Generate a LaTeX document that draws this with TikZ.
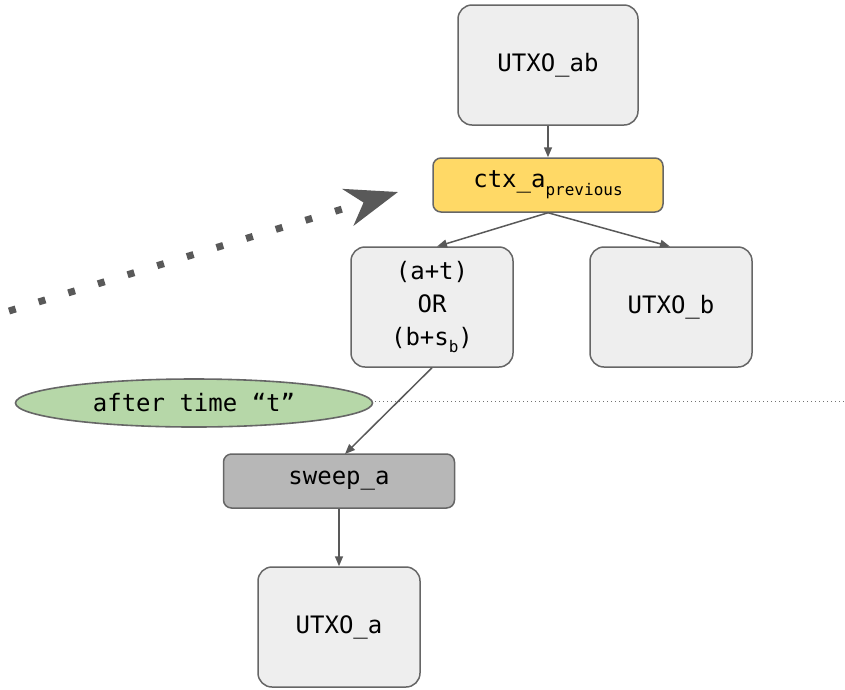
\documentclass[tikz,border=0pt]{standalone}
\usepackage{fontspec}
\setmonofont{DejaVu Sans Mono}
\usetikzlibrary{arrows.meta,shapes.geometric}
\definecolor{boxfill}{HTML}{EEEEEE}
\definecolor{boxline}{HTML}{666666}
\definecolor{linecol}{HTML}{595959}
\definecolor{ctxfill}{HTML}{FFD966}
\definecolor{sweepfill}{HTML}{B7B7B7}
\definecolor{ellfill}{HTML}{B6D7A8}
\newcommand{\subtxt}[1]{\raisebox{-0.32em}{\fontsize{16}{16}\selectfont #1}}
\begin{document}
\begin{tikzpicture}[x=1pt,y=-1pt,
  every node/.style={font=\ttfamily\fontsize{24}{29}\selectfont, text=black},
  bigbox/.style={draw=boxline, line width=1.5pt, fill=boxfill, rounded corners=14pt,
    minimum width=162pt, minimum height=120pt, inner sep=0pt, align=center},
  barbox/.style={draw=boxline, line width=1.5pt, rounded corners=8pt,
    minimum height=54pt, inner sep=0pt},
  conn/.style={draw=linecol, line width=1.5pt, -{Triangle[length=10pt,width=8pt]}}
]
\useasboundingbox (0,0) rectangle (845,689);

\node[bigbox, minimum width=180pt] (ab) at (548,65) {UTXO\_ab};
\node[barbox, fill=ctxfill, minimum width=230pt] (ctx) at (548,185) {ctx\_a\subtxt{previous}};
\node[bigbox] (or) at (432,307) {(a+t)\\[4pt]OR\\[4pt](b+s\subtxt{b})};
\node[bigbox] (b) at (671,307) {UTXO\_b};
\node[draw=boxline, line width=1.6pt, fill=ellfill, ellipse, minimum width=357pt,
  minimum height=48pt, inner sep=0pt] (ell) at (194,403) {after time “t”};
\node[barbox, fill=sweepfill, minimum width=231pt] (sweep) at (339,481) {sweep\_a};
\node[bigbox] (a) at (339,627) {UTXO\_a};

\coordinate (dotend) at (845,401);
\coordinate (arrs) at (9,311);
\coordinate (arre) at (398,192);

\draw[linecol!85, line width=1pt, dash pattern=on 1pt off 3pt] (ell.east |- dotend) ++(2,0) -- (dotend);

\draw[conn] (ab.south) -- (ctx.north);
\draw[conn] (ctx.south) -- (437,246.5);
\draw[conn] (ctx.south) -- (670,246.5);
\draw[conn] (or.south) -- (345,454);
\draw[conn] (sweep.south) -- (a.north);

\draw[linecol, line width=7pt, dash pattern=on 7pt off 24pt, dash phase=0pt,
  -{Stealth[length=52pt,width=38pt,inset=16pt]}] (arrs) -- (arre);
\end{tikzpicture}
\end{document}
